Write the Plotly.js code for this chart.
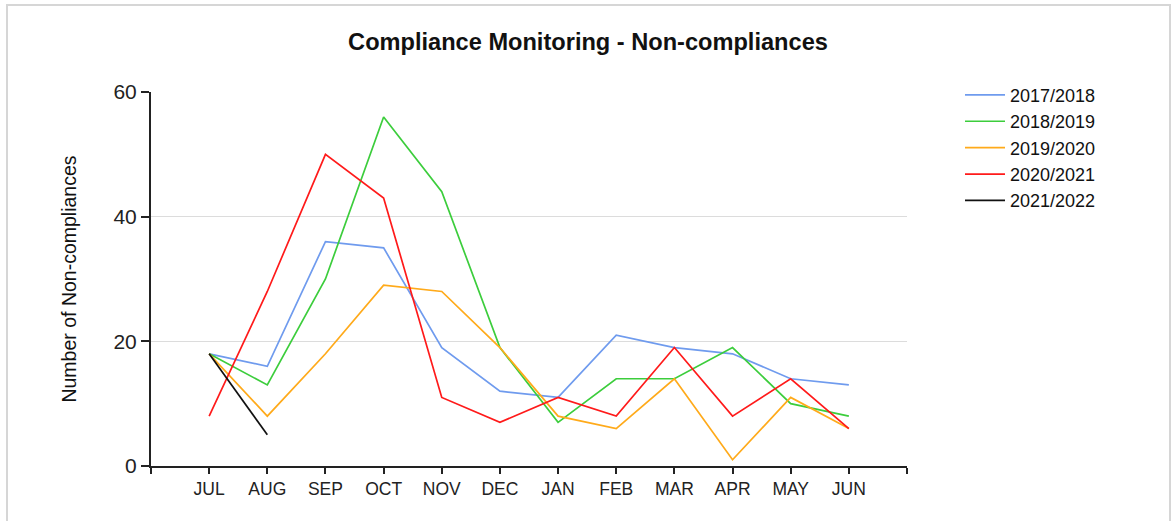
<!DOCTYPE html>
<html>
<head>
<meta charset="utf-8">
<script src="https://cdn.plot.ly/plotly-3.0.1.min.js"></script>
<style>
  html, body { margin: 0; padding: 0; background: #fff; }
  #chart { position: absolute; left: 0; top: 0; width: 1172px; height: 521px; }
  #frame { position: absolute; left: 6px; top: 4px; width: 1161px; height: 600px;
           border: 2px solid #d6d6d6; pointer-events: none; }
</style>
</head>
<body>
<div id="chart"></div>
<div id="frame"></div>
<script>
const months = ['JUL','AUG','SEP','OCT','NOV','DEC','JAN','FEB','MAR','APR','MAY','JUN'];
const seriesNames = ['2017/2018','2018/2019','2019/2020','2020/2021','2021/2022'];
const s2017 = [18, 16, 36, 35, 19, 12, 11, 21, 19, 18, 14, 13];
const s2018 = [18, 13, 30, 56, 44, 19, 7, 14, 14, 19, 10, 8];
const s2019 = [18, 8, 18, 29, 28, 19, 8, 6, 14, 1, 11, 6];
const s2020 = [8, 28, 50, 43, 11, 7, 11, 8, 19, 8, 14, 6];
const s2021 = [18, 5];
const colors = ['#6f9bee', '#3ccd3c', '#ffaa1a', '#ff1a1a', '#111111'];

const allSeries = [s2017, s2018, s2019, s2020, s2021];
const traces = allSeries.map((vals, k) => ({
  type: 'scatter',
  mode: 'lines',
  name: seriesNames[k],
  x: vals.map((_, i) => i),
  y: vals,
  line: { color: colors[k], width: 1.7 },
  hoverinfo: 'x+y+name'
}));

const tickVals = [-1].concat(months.map((_, i) => i), [months.length]);
const tickText = [''].concat(months, ['']);

const layout = {
  width: 1172, height: 521,
  paper_bgcolor: 'rgba(0,0,0,0)',
  plot_bgcolor: '#fff',
  margin: { l: 151, r: 265, t: 92, b: 55 },
  font: { family: 'Liberation Sans, Arial, sans-serif', color: '#111' },
  title: {
    text: '<b>Compliance Monitoring - Non-compliances</b>',
    font: { size: 23.6, family: 'Liberation Sans, Arial, sans-serif', color: '#111' },
    xref: 'container', x: 588 / 1172, xanchor: 'center',
    yref: 'container', y: 1 - 42 / 521, yanchor: 'middle'
  },
  xaxis: {
    range: [-1, months.length],
    tickmode: 'array', tickvals: tickVals, ticktext: tickText,
    showgrid: false, zeroline: false,
    showline: true, linecolor: '#222', linewidth: 2,
    ticks: 'outside', ticklen: 6, tickwidth: 2, tickcolor: '#222',
    tickfont: { size: 17.5, color: '#222' },
    fixedrange: true
  },
  yaxis: {
    range: [0, 60], tickmode: 'array', tickvals: [0, 20, 40, 60],
    showgrid: true, gridcolor: '#dcdcdc', gridwidth: 1.5,
    zeroline: false,
    showline: true, linecolor: '#222', linewidth: 2,
    ticks: 'outside', ticklen: 8, tickwidth: 2, tickcolor: '#222',
    tickfont: { size: 21, color: '#222' },
    title: { text: 'Number of Non-compliances', font: { size: 19.5, color: '#111' }, standoff: 32 },
    fixedrange: true
  },
  legend: {
    x: (960 - 151) / 756, xanchor: 'left',
    y: 1.041, yanchor: 'top',
    font: { size: 18, color: '#111' },
    bgcolor: 'rgba(0,0,0,0)',
    itemwidth: 40,
    tracegroupgap: 0
  },
  showlegend: true
};

Plotly.newPlot('chart', traces, layout, { displayModeBar: false, staticPlot: true });
</script>
</body>
</html>
